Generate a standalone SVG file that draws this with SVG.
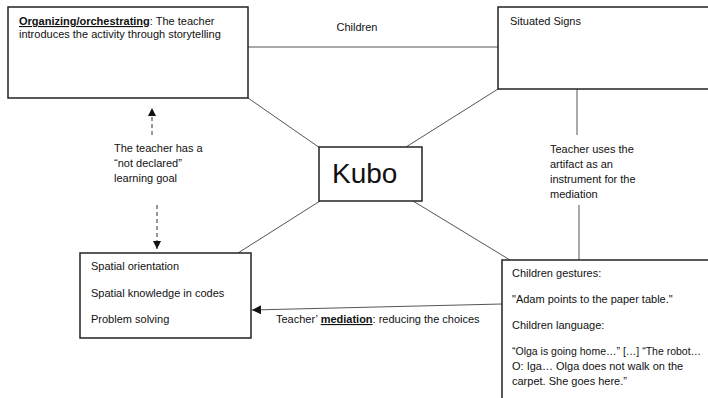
<svg xmlns="http://www.w3.org/2000/svg" width="708" height="398" viewBox="0 0 708 398">
<defs>
<style>
text{font-family:"Liberation Sans",Arial,sans-serif;font-size:11px;fill:#111}
.box{fill:#fff;stroke:#222;stroke-width:1.5}
.ln{stroke:#555;stroke-width:1;fill:none}
.dash{stroke:#333;stroke-width:1;stroke-dasharray:4 3;fill:none}
.b{font-weight:bold;text-decoration:underline}
</style>
<marker id="ah" viewBox="0 0 10 10" refX="10" refY="5" markerWidth="8" markerHeight="8" markerUnits="userSpaceOnUse" orient="auto">
<path d="M0,0 L10,5 L0,10 z" fill="#111"/>
</marker>
<marker id="ah2" viewBox="0 0 10 10" refX="10" refY="5" markerWidth="9" markerHeight="9" markerUnits="userSpaceOnUse" orient="auto">
<path d="M0,0 L10,5 L0,10 z" fill="#111"/>
</marker>
</defs>
<rect width="708" height="398" fill="#fff"/>
<g id="connectors">
<line class="ln" x1="248" y1="47" x2="498" y2="47"/>
<line class="ln" x1="248" y1="98" x2="320" y2="148"/>
<line class="ln" x1="498" y1="89" x2="406" y2="147"/>
<line class="ln" x1="320" y1="201" x2="238" y2="253"/>
<line class="ln" x1="413" y1="201" x2="510" y2="260"/>
<line class="ln" x1="577" y1="89" x2="577" y2="135"/>
<line class="ln" x1="579" y1="205" x2="579" y2="260"/>
<line class="dash" x1="152" y1="135" x2="152" y2="108" marker-end="url(#ah)"/>
<line class="dash" x1="157" y1="205" x2="157" y2="249" marker-end="url(#ah)"/>
<line class="ln" x1="502" y1="304" x2="252" y2="310" stroke="#333" marker-end="url(#ah2)"/>
<text x="357" y="31" text-anchor="middle">Children</text>
<text x="114" y="152">The teacher has a</text>
<text x="114" y="167">“not declared”</text>
<text x="114" y="182">learning goal</text>
<text x="550" y="153">Teacher uses the</text>
<text x="550" y="168">artifact as an</text>
<text x="550" y="183">instrument for the</text>
<text x="550" y="198">mediation</text>
<text x="276" y="323">Teacher’ <tspan class="b">mediation</tspan>: reducing the choices</text>
</g>
<g id="organizing">
<rect class="box" x="8" y="7" width="240" height="91"/>
<text x="19" y="25"><tspan class="b">Organizing/orchestrating</tspan>:  The teacher</text>
<text x="19" y="38">introduces the activity through storytelling</text>
</g>
<g id="situated-signs">
<rect class="box" x="498" y="7" width="220" height="82"/>
<text x="510" y="25">Situated Signs</text>
</g>
<g id="kubo">
<rect class="box" x="319" y="147" width="103" height="54"/>
<text x="332" y="183" style="font-size:28px">Kubo</text>
</g>
<g id="spatial">
<rect class="box" x="80" y="253" width="171" height="85"/>
<text x="91" y="270">Spatial orientation</text>
<text x="91" y="297">Spatial knowledge  in codes</text>
<text x="91" y="323">Problem solving</text>
</g>
<g id="children-box">
<rect class="box" x="502" y="260" width="220" height="150"/>
<text x="512" y="277">Children gestures:</text>
<text x="512" y="303">"Adam points to the paper table."</text>
<text x="512" y="329">Children language:</text>
<text x="512" y="355" style="font-size:10.5px">“Olga is going home…” […] “The robot…</text>
<text x="512" y="370">O: Iga… Olga does not walk on the</text>
<text x="512" y="385">carpet. She goes here.”</text>
</g>
</svg>
